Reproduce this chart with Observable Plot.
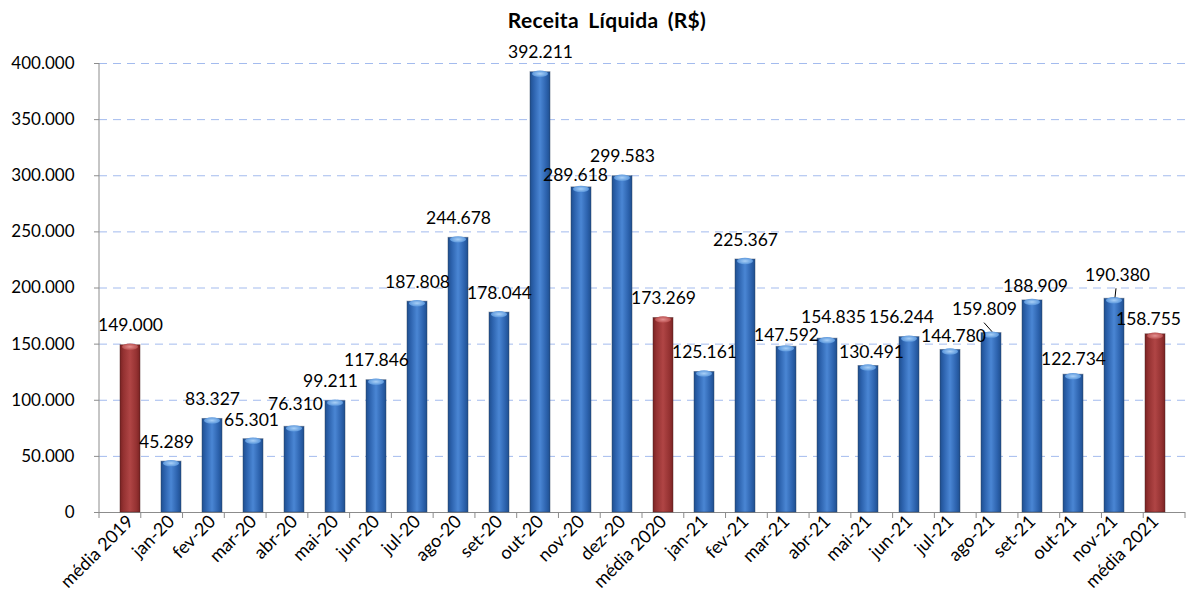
<!DOCTYPE html>
<html><head><meta charset="utf-8">
<script src="https://cdn.jsdelivr.net/npm/d3@7"></script>
<script src="https://cdn.jsdelivr.net/npm/@observablehq/plot@0.6"></script>
<style>
body{margin:0;background:#fff;font-family:Lato,sans-serif;}
#title{height:40px;line-height:40px;text-align:center;font-weight:bold;font-size:21px;word-spacing:4px;letter-spacing:0.3px;padding-left:16px;color:#000;}
#chart svg{display:block;}
</style></head><body>
<div id="title">Receita Líquida (R$)</div>
<div id="chart"></div>
<script>
const categories = ["média 2019","jan-20","fev-20","mar-20","abr-20","mai-20","jun-20","jul-20","ago-20","set-20","out-20","nov-20","dez-20","média 2020","jan-21","fev-21","mar-21","abr-21","mai-21","jun-21","jul-21","ago-21","set-21","out-21","nov-21","média 2021"];
const values = [149000,45289,83327,65301,76310,99211,117846,187808,244678,178044,392211,289618,299583,173269,125161,225367,147592,154835,130491,156244,144780,159809,188909,122734,190380,158755];
const yTicks = [0,50000,100000,150000,200000,250000,300000,350000,400000];

// label placement tweaks (styling, mirroring the hand-moved labels of the original)
const labelNudge = {
  "jan-20":[-5,0], "mar-20":[-2,1], "abr-20":[1,-3], "mai-20":[-5,0], "nov-20":[-6,8], "mar-21":[0,8], "abr-21":[6,-2],
  "mai-21":[3,6], "jun-21":[-8,0], "jul-21":[3,6], "ago-21":[-7,-4], "set-21":[3,6],
  "out-21":[0,4], "nov-21":[3,-4], "média 2021":[-7,5]
};
const leaderLabels = ["ago-21","nov-21"];

const fmt = d3.formatLocale({decimal:",",thousands:".",grouping:[3],currency:["R$",""]}).format(",d");
const data = categories.map((c,i)=>({category:c, value:values[i], avg:c.startsWith("média")}));

const W=1198,H=572,ML=99,MR=13,MT=23,MB=100;
const FS=17.5, DY=-14;

const labelMarks = data.map(d=>{
  const [dx,dy] = labelNudge[d.category] || [0,0];
  return Plot.text([d],{x:"category",y:"value",text:v=>fmt(v.value),lineAnchor:"bottom",dx,dy:DY+dy,fontSize:FS,fill:"#000"});
});

const chart = Plot.plot({
  width:W,height:H,marginLeft:ML,marginRight:MR,marginTop:MT,marginBottom:MB,
  style:{fontFamily:"Lato, sans-serif",fontSize:FS+"px",color:"#000",background:"#fff",overflow:"visible"},
  x:{domain:categories,paddingInner:0.52,paddingOuter:0.26,label:null},
  y:{domain:[0,400000],label:null},
  marks:[
    Plot.gridY(yTicks.filter(d=>d>0),{stroke:"#a3bbee",strokeOpacity:1,strokeDasharray:"8,6"}),
    Plot.ruleY([0],{stroke:"#8c8c8c"}),
    Plot.barY(data,{filter:d=>!d.avg,x:"category",y:"value",fill:"url(#gradBlue)",stroke:"#2a3f5c",strokeOpacity:0.45}),
    Plot.barY(data,{filter:d=>d.avg,x:"category",y:"value",fill:"url(#gradRed)",stroke:"#4a2020",strokeOpacity:0.45}),
    Plot.axisY({ticks:yTicks,tickFormat:fmt,tickSize:5,tickPadding:20,stroke:"#8c8c8c",fontSize:17}),
    Plot.axisX({tickRotate:-45,tickSize:0,tickPadding:6,fontSize:18}),
    ...labelMarks
  ]
});

const svg = d3.select(chart);
const defs = svg.insert("defs",":first-child");
function hgrad(id, stops){
  const g = defs.append("linearGradient").attr("id",id).attr("x1","0").attr("x2","1").attr("y1","0").attr("y2","0");
  stops.forEach(([o,c])=>g.append("stop").attr("offset",o).attr("stop-color",c));
}
hgrad("gradBlue",[[0,"#1f4f8f"],[0.18,"#2c62ad"],[0.5,"#4a86d4"],[0.82,"#2c62ad"],[1,"#1f4f8f"]]);
hgrad("gradRed",[[0,"#7a2323"],[0.18,"#953232"],[0.5,"#b04545"],[0.82,"#953232"],[1,"#7a2323"]]);
const capB = defs.append("radialGradient").attr("id","capBlue");
capB.append("stop").attr("offset",0).attr("stop-color","#a9d0f7");
capB.append("stop").attr("offset",1).attr("stop-color","#5b97dc");
const capR = defs.append("radialGradient").attr("id","capRed");
capR.append("stop").attr("offset",0).attr("stop-color","#e59090");
capR.append("stop").attr("offset",1).attr("stop-color","#b84e4e");

svg.selectAll("rect").each(function(){
  const r = d3.select(this);
  const fill = r.attr("fill") || d3.select(this.parentNode).attr("fill");
  if (!fill || !fill.includes("grad")) return;
  const x=+r.attr("x"), y=+r.attr("y"), w=+r.attr("width");
  d3.select(this.parentNode).append("ellipse")
    .attr("cx",x+w/2).attr("cy",y+2).attr("rx",w/2-2).attr("ry",3.2)
    .attr("fill",fill.includes("Red")?"url(#capRed)":"url(#capBlue)").attr("stroke","none");
});

// axis lines, category boundary ticks and leader lines from Plot's scales
const xs = chart.scale("x"), ys = chart.scale("y");
const y0 = ys.apply(0), yTop = ys.apply(400000);
const g = svg.append("g").attr("stroke","#8c8c8c").attr("fill","none");
g.append("line").attr("x1",ML).attr("x2",ML).attr("y1",yTop).attr("y2",y0+6);
const stepPx = (W-ML-MR)/categories.length;
for (let i=1;i<=categories.length;i++){
  const xb = ML + i*stepPx;
  g.append("line").attr("x1",xb).attr("x2",xb).attr("y1",y0).attr("y2",y0+6);
}
const lg = svg.append("g").attr("stroke","#000").attr("stroke-width",1);
leaderLabels.forEach(c=>{
  const d = data.find(v=>v.category===c);
  const cx = xs.apply(c) + xs.bandwidth/2, top = ys.apply(d.value);
  if (c==="ago-21") lg.append("line").attr("x1",cx-7).attr("y1",top-10).attr("x2",cx+1).attr("y2",top-1);
  else lg.append("line").attr("x1",cx+2).attr("y1",top-10).attr("x2",cx+1).attr("y2",top-1);
});
document.getElementById("chart").appendChild(chart);
</script>
</body></html>
